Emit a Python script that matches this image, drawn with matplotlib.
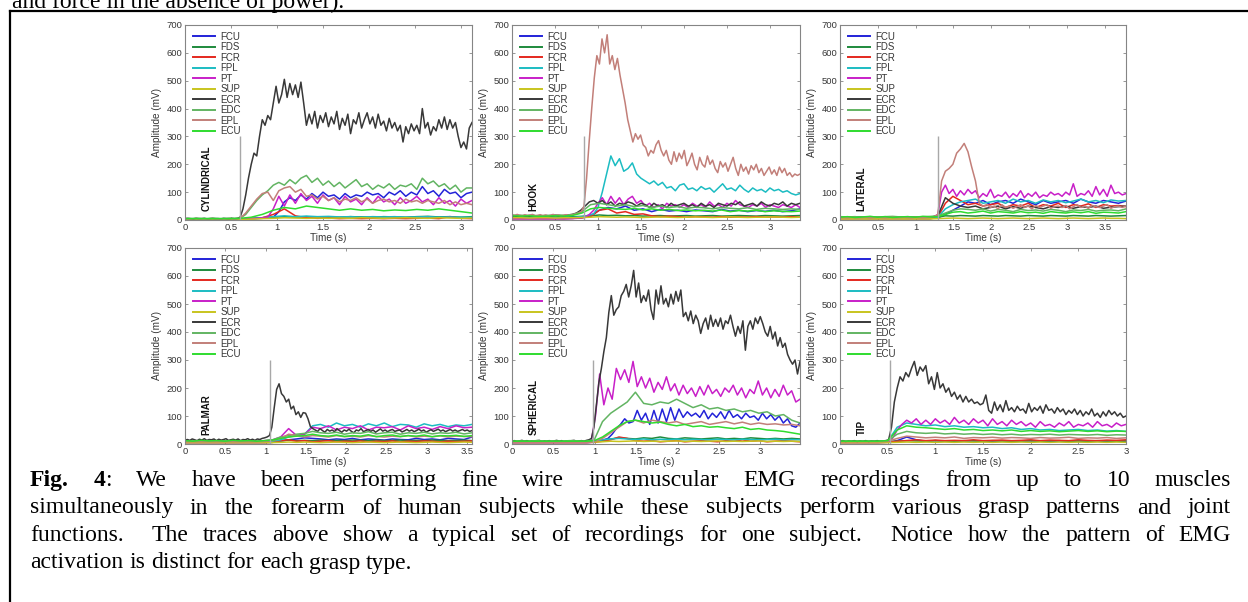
import numpy as np
import matplotlib
matplotlib.use('Agg')
import matplotlib.pyplot as plt
from matplotlib.lines import Line2D
from matplotlib.ticker import FuncFormatter

plt.rcParams['font.family'] = ['Liberation Sans', 'DejaVu Sans']

muscles = ['FCU', 'FDS', 'FCR', 'FPL', 'PT', 'SUP', 'ECR', 'EDC', 'EPL', 'ECU']
colors = ['#2323d8', '#1e8a3c', '#e4281e', '#1cbcc2', '#c81fc8',
          '#c8c41e', '#383838', '#62b462', '#c27f79', '#2fdc2f']

grasps = ['CYLINDRICAL', 'HOOK', 'LATERAL', 'PALMAR', 'SPHERICAL', 'TIP']
t_end = [3.12, 3.35, 3.78, 3.56, 3.48, 3.0]
onsets = [0.6, 0.84, 1.3, 1.06, 0.98, 0.52]
onset_top = 300

# ---- cylindrical (mV), each series spans 0..t_end evenly
cyl_ecr = [5, 6, 5, 4, 6, 5, 5, 6, 4, 5, 6, 5, 5, 4, 6, 5, 5, 6, 5, 6,
           10, 40, 90, 150, 200, 240, 230, 300, 360, 340, 375, 360, 420, 480, 420,
           450, 505, 440, 490, 450, 485, 440, 495, 420, 340, 380, 345, 390, 330, 375,
           350, 385, 335, 370, 345, 390, 325, 365, 340, 380, 310, 360, 345, 385, 330,
           360, 385, 345, 370, 330, 380, 340, 355, 320, 365, 330, 350, 320, 340, 280,
           335, 310, 345, 320, 340, 310, 400, 330, 350, 305, 335, 320, 360, 330, 370,
           325, 360, 330, 350, 300, 260, 280, 255, 330, 350]
cyl_edc = [5, 5, 6, 5, 5, 6, 5, 5, 6, 5, 6, 20, 45, 70, 90, 105, 125, 135, 125, 145,
           130, 150, 160, 135, 150, 125, 140, 120, 135, 115, 130, 145, 120, 130, 110,
           125, 115, 130, 110, 125, 120, 130, 110, 150, 130, 140, 120, 130, 110, 125,
           100, 115, 115]
cyl_fcu = [3, 3, 3, 3, 3, 3, 3, 3, 3, 3, 4, 4, 5, 5, 6, 8, 10, 30, 65, 80, 70, 90,
           75, 95, 80, 100, 85, 90, 75, 95, 80, 90, 85, 100, 90, 95, 80, 100, 90, 105,
           85, 100, 90, 120, 95, 105, 85, 110, 95, 100, 80, 95, 100]
cyl_pt = [3, 3, 3, 3, 3, 3, 3, 3, 3, 3, 3, 4, 5, 6, 8, 10, 40, 85, 50, 90, 60, 95,
          70, 85, 60, 90, 70, 80, 55, 85, 65, 75, 55, 80, 60, 85, 65, 75, 55, 80, 60,
          70, 85, 65, 75, 55, 80, 60, 70, 50, 75, 60, 70]
cyl_epl = [4, 4, 5, 4, 4, 5, 4, 4, 5, 4, 6, 25, 50, 75, 95, 100, 70, 105, 115, 120,
           100, 110, 85, 90, 75, 85, 70, 80, 65, 75, 70, 80, 65, 75, 60, 70, 75, 65,
           70, 60, 75, 65, 70, 60, 70, 65, 60, 70, 55, 65, 55, 60, 55]
cyl_ecu = [5, 5, 5, 5, 5, 6, 10, 20, 35, 45, 40, 50, 45, 40, 35, 40, 35, 38, 33,
           36, 34, 38, 35, 40, 35, 30, 25]
cyl_fpl = [3, 3, 3, 3, 3, 4, 6, 8, 12, 15, 12, 14, 12, 13, 11, 12, 10, 12, 11, 12,
           10, 11, 12, 10, 11, 10, 10]
cyl_fcr = [2, 2, 2, 2, 2, 3, 5, 8, 20, 40, 15, 8, 6, 7, 5, 6, 5, 6, 5, 6, 5, 6, 7,
           5, 12, 6, 5]
cyl_fds = [3, 3, 3, 3, 3, 3, 5, 8, 10, 12, 10, 12, 10, 11, 10, 12, 11, 10, 12, 11,
           10, 12, 13, 11, 12, 10, 12]
cyl_sup = [2, 2, 2, 2, 2, 2, 3, 5, 6, 8, 7, 6, 7, 6, 7, 6, 8, 7, 6, 7, 8, 7, 6, 8,
           7, 6, 7]

# ---- hook
hook_epl = [18, 16, 20, 17, 15, 19, 16, 18, 20, 15, 17, 19, 16, 18, 15, 17, 20, 16,
            18, 15, 17, 19, 16, 18, 20, 22, 25, 30, 50, 150, 280, 400, 510, 590, 560,
            650, 600, 665, 560, 590, 540, 580, 520, 470, 420, 360, 320, 280, 310, 290,
            305, 270, 260, 230, 250, 240, 270, 285, 250, 230, 250, 215, 200, 245, 210,
            240, 220, 250, 195, 215, 240, 200, 180, 225, 200, 190, 230, 200, 215, 185,
            170, 210, 190, 205, 175, 200, 225, 185, 160, 200, 175, 190, 165, 195, 180,
            200, 170, 185, 160, 175, 190, 165, 180, 160, 190, 170, 185, 160, 170, 155,
            165, 160, 165]
hook_fpl = [10, 9, 11, 10, 8, 10, 9, 11, 10, 9, 10, 8, 11, 10, 9, 10, 12, 14, 18, 22,
            45, 100, 165, 230, 195, 220, 175, 185, 205, 165, 150, 140, 130, 140, 125,
            135, 115, 120, 105, 125, 130, 110, 115, 105, 120, 110, 115, 100, 115, 130,
            110, 115, 105, 125, 110, 100, 115, 105, 110, 100, 115, 105, 110, 100, 105,
            95, 90, 95]
hook_pt = [5, 5, 5, 5, 5, 5, 5, 5, 5, 5, 5, 5, 5, 5, 5, 6, 8, 10, 20, 35,
           60, 80, 55, 85, 60, 80, 55, 75, 85, 60, 70, 50, 60, 45, 55, 40, 60, 50, 55,
           45, 55, 45, 60, 50, 55, 45, 65, 50, 55, 45, 60, 50, 70, 55, 50, 45, 55, 50,
           60, 45, 55, 50, 45, 55, 50, 45, 55, 45]
hook_ecr = [15, 14, 16, 15, 14, 16, 15, 14, 16, 15, 17, 16, 15, 18, 20, 25, 35, 50,
            65, 70, 60, 70, 55, 65, 50, 60, 55, 65, 60, 50, 60, 55, 45, 60, 50, 55, 45,
            60, 50, 55, 60, 50, 55, 45, 60, 50, 55, 45, 60, 55, 50, 60, 55, 65, 50, 55,
            60, 50, 65, 55, 50, 60, 55, 65, 50, 60, 55, 60]
hook_edc = [18, 16, 17, 15, 16, 18, 17, 20, 30, 55, 60, 55, 50, 55, 48, 52, 45, 50,
            45, 48, 42, 46, 44, 40, 45, 42, 40, 44, 38, 42, 40, 38, 40, 38]
hook_ecu = [15, 14, 15, 13, 14, 15, 14, 17, 25, 40, 45, 42, 40, 38, 42, 36, 40, 35,
            38, 34, 36, 33, 35, 32, 36, 30, 34, 32, 35, 30, 33, 31, 30, 32]
hook_fcu = [5, 5, 5, 5, 5, 5, 5, 6, 8, 15, 35, 45, 40, 50, 35, 40, 30, 38, 32, 35,
            30, 36, 33, 30, 38, 32, 35, 30, 34, 31, 35, 30, 33, 40]
hook_fcr = [5, 5, 5, 5, 5, 5, 5, 6, 8, 12, 35, 40, 25, 30, 20, 22, 15, 12, 14, 12,
            10, 12, 11, 10, 12, 10, 11, 10, 12, 10, 11, 10, 12, 10]
hook_fds = [12, 11, 12, 10, 11, 12, 11, 12, 13, 15, 18, 16, 17, 15, 16, 14, 15, 16,
            14, 15, 16, 14, 15, 16, 14, 15, 16, 15, 14, 16, 15, 14, 15, 16]
hook_sup = [8, 8, 7, 8, 8, 7, 8, 8, 9, 10, 12, 11, 10, 11, 10, 9, 10, 11, 10, 9, 10,
            11, 10, 9, 10, 11, 10, 9, 10, 10, 11, 10, 9, 10]

# ---- lateral
lat_epl = [8, 9, 8, 10, 9, 8, 9, 10, 8, 9, 10, 9, 8, 9, 10, 8, 9, 10, 9, 8, 10, 9,
           8, 9, 10, 12, 20, 140, 175, 185, 200, 240, 255, 275, 245, 190, 140, 60, 50,
           55, 45, 50, 40, 55, 45, 50, 42, 48, 55, 45, 50, 40, 52, 45, 50, 55, 42, 48,
           50, 45, 52, 40, 48, 55, 45, 50, 42, 52, 48, 45, 50, 55, 42, 48, 50, 45, 50]
lat_pt = [10, 9, 10, 9, 10, 11, 9, 10, 9, 10, 11, 9, 10, 9, 10, 11, 9, 10, 9, 10,
          11, 10, 9, 10, 11, 12, 20, 100, 125, 95, 110, 85, 105, 90, 110, 95, 105, 80,
          95, 85, 110, 80, 90, 85, 100, 80, 95, 85, 105, 80, 95, 85, 100, 80, 90, 85,
          100, 90, 95, 85, 100, 90, 130, 85, 95, 90, 105, 85, 120, 90, 110, 85, 125,
          95, 100, 90, 95]
lat_fpl = [8, 8, 8, 8, 8, 8, 8, 8, 8, 8, 8, 8, 8, 10, 40, 55, 65, 70, 75, 60, 65, 70,
           60, 75, 65, 70, 60, 72, 65, 70, 62, 68, 75, 65, 70, 62, 72, 68, 70]
lat_fcu = [5, 5, 5, 5, 5, 5, 5, 5, 5, 5, 5, 5, 5, 8, 20, 35, 50, 65, 60, 70, 55, 65,
           70, 60, 75, 65, 55, 70, 60, 65, 70, 60, 75, 65, 60, 70, 65, 60, 68]
lat_fcr = [5, 5, 5, 5, 5, 5, 5, 5, 5, 5, 5, 5, 5, 10, 60, 85, 70, 55, 60, 50, 55, 60,
           45, 55, 50, 60, 45, 55, 50, 60, 45, 55, 50, 58, 45, 55, 50, 52, 48]
lat_ecr = [10, 10, 10, 10, 10, 10, 10, 10, 10, 10, 10, 10, 10, 15, 80, 60, 50, 45, 50,
           40, 45, 50, 40, 48, 42, 50, 45, 40, 48, 45, 50, 42, 48, 45, 50, 42, 46, 48, 50]
lat_edc = [12, 11, 12, 10, 12, 11, 12, 13, 11, 12, 10, 12, 13, 15, 25, 35, 40, 38, 35,
           40, 32, 38, 35, 30, 38, 34, 36, 32, 38, 35, 30, 36, 34, 38, 32, 35, 36, 33, 40]
lat_ecu = [10, 12, 9, 11, 13, 10, 12, 9, 11, 12, 10, 13, 11, 12, 20, 28, 30, 25, 28,
           32, 25, 30, 28, 25, 30, 26, 28, 24, 30, 27, 25, 29, 26, 30, 24, 28, 27, 25, 30]
lat_fds = [8, 8, 8, 8, 8, 8, 8, 8, 8, 8, 8, 8, 8, 10, 15, 14, 16, 15, 14, 16, 15, 14,
           16, 15, 14, 16, 15, 14, 16, 15, 14, 16, 15, 14, 16, 15, 14, 15, 16]
lat_sup = [4, 4, 4, 4, 4, 4, 4, 4, 4, 4, 4, 4, 4, 5, 6, 7, 6, 5, 6, 7, 6, 5, 6, 7, 6,
           5, 6, 7, 6, 5, 6, 7, 6, 5, 6, 7, 6, 6, 5]

# ---- palmar
palm_ecr = [14, 16, 13, 18, 15, 12, 17, 14, 19, 13, 16, 15, 18, 12, 17, 14, 16, 19,
            13, 15, 17, 14, 18, 12, 16, 15, 19, 14, 17, 13, 18, 16, 20, 22, 25, 30, 60,
            130, 195, 215, 180, 170, 150, 160, 125, 135, 105, 115, 95, 112, 110, 90, 62,
            55, 50, 45, 55, 48, 42, 52, 46, 50, 44, 55, 48, 42, 50, 46, 53, 45, 40, 50,
            47, 55, 44, 48, 52, 45, 50, 42, 48, 54, 46, 50, 44, 49, 52, 45, 48, 50, 43,
            47, 52, 46, 50, 44, 48, 53, 46, 50, 42, 47, 51, 45, 49, 53, 46, 50, 44, 48,
            52, 46, 50, 45, 48, 52, 47, 50, 45, 48]
palm_fpl = [8, 8, 8, 8, 8, 8, 8, 8, 8, 8, 8, 10, 15, 25, 30, 35, 65, 70, 60, 75, 65,
            70, 60, 72, 65, 75, 62, 70, 68, 60, 72, 65, 70, 62, 68, 65, 70]
palm_pt = [10, 9, 10, 11, 9, 10, 9, 10, 11, 10, 12, 15, 25, 55, 30, 35, 60, 55, 65,
           50, 60, 55, 65, 50, 60, 58, 62, 50, 65, 55, 60, 52, 62, 55, 65, 58, 60]
palm_edc = [10, 11, 10, 12, 10, 11, 10, 12, 11, 10, 12, 15, 25, 30, 35, 38, 45, 40,
            38, 42, 35, 40, 38, 44, 36, 40, 42, 35, 40, 38, 42, 36, 40, 38, 42, 36, 40]
palm_ecu = [12, 10, 13, 11, 12, 10, 13, 11, 12, 10, 12, 14, 20, 25, 28, 30, 35, 30,
            28, 32, 27, 30, 28, 33, 26, 30, 32, 27, 30, 28, 32, 26, 30, 29, 31, 27, 30]
palm_epl = [8, 8, 8, 8, 8, 8, 8, 8, 8, 8, 9, 12, 20, 35, 30, 25, 30, 28, 25, 30, 26,
            28, 25, 30, 27, 25, 28, 26, 30, 25, 28, 26, 29, 25, 28, 27, 26]
palm_fcu = [5, 5, 5, 5, 5, 5, 5, 5, 5, 5, 5, 6, 10, 15, 18, 22, 20, 18, 15, 18, 16,
            20, 15, 18, 16, 14, 18, 16, 15, 20, 16, 18, 15, 20, 18, 16, 25]
palm_fcr = [5, 5, 5, 5, 5, 5, 5, 5, 5, 5, 5, 6, 12, 15, 10, 12, 8, 10, 12, 8, 10, 9,
            11, 8, 10, 9, 11, 8, 10, 9, 11, 10, 8, 10, 9, 10, 11]
palm_fds = [8, 8, 8, 8, 8, 8, 8, 8, 8, 8, 8, 9, 12, 14, 12, 13, 12, 14, 12, 13, 12,
            14, 13, 12, 14, 12, 13, 14, 12, 13, 12, 14, 13, 12, 13, 14, 12]
palm_sup = [5, 5, 5, 5, 5, 5, 5, 5, 5, 5, 5, 5, 6, 7, 6, 7, 6, 5, 6, 7, 6, 5, 6, 7,
            6, 5, 6, 7, 6, 5, 6, 7, 6, 5, 6, 7, 6]

# ---- spherical
sph_ecr = [10, 12, 9, 11, 13, 10, 12, 9, 11, 10, 12, 13, 9, 11, 10, 12, 9, 11, 13, 10,
           12, 9, 11, 10, 12, 13, 10, 11, 12, 10, 13, 15, 20, 60, 140, 220, 270, 330,
           380, 470, 530, 460, 480, 490, 530, 545, 570, 525, 565, 620, 525, 575, 505,
           530, 510, 550, 480, 445, 550, 500, 565, 500, 520, 490, 535, 500, 545, 510,
           550, 455, 470, 440, 475, 430, 460, 440, 395, 430, 450, 410, 460, 420, 445,
           420, 450, 410, 440, 430, 460, 420, 385, 420, 395, 440, 335, 420, 440, 410,
           450, 430, 455, 430, 400, 385, 420, 375, 400, 350, 380, 345, 360, 320, 300,
           285, 300, 250, 295]
sph_pt = [8, 9, 8, 10, 9, 8, 9, 10, 8, 9, 10, 9, 8, 9, 10, 8, 9, 10, 9, 12, 100, 250,
          140, 200, 160, 270, 230, 265, 220, 295, 205, 240, 200, 235, 185, 220, 195,
          240, 190, 215, 175, 210, 180, 200, 170, 205, 175, 210, 180, 195, 170, 200,
          185, 210, 175, 200, 165, 195, 180, 225, 175, 200, 165, 195, 170, 210, 175,
          190, 150, 160]
sph_edc = [10, 11, 10, 12, 10, 11, 10, 12, 11, 10, 15, 80, 110, 130, 150, 185, 145,
           140, 150, 145, 160, 145, 130, 140, 125, 130, 120, 125, 115, 120, 110, 115,
           100, 105, 85, 75]
sph_fcu = [5, 5, 5, 5, 5, 5, 5, 5, 5, 5, 5, 5, 5, 5, 5, 5, 5, 5, 5, 6, 8, 12, 15, 20,
           35, 55, 70, 90, 75, 80, 120, 85, 110, 70, 120, 75, 125, 80, 130, 85, 125, 95,
           115, 100, 110, 95, 120, 90, 110, 95, 115, 90, 120, 95, 105, 90, 110, 95, 100,
           85, 110, 90, 105, 85, 100, 75, 90, 65, 60, 75]
sph_epl = [5, 5, 5, 5, 5, 5, 5, 5, 5, 5, 8, 20, 40, 60, 80, 85, 75, 85, 80, 75, 80,
           70, 75, 80, 70, 75, 80, 72, 78, 70, 75, 70, 72, 68, 70, 65]
sph_ecu = [10, 10, 10, 10, 10, 10, 10, 10, 10, 10, 12, 25, 45, 65, 80, 85, 80, 75, 78,
           70, 65, 70, 62, 65, 60, 62, 58, 55, 60, 52, 55, 50, 48, 45, 40, 35]
sph_fpl = [8, 8, 8, 8, 8, 8, 8, 8, 8, 8, 10, 15, 18, 20, 18, 16, 18, 15, 17, 16, 18,
           15, 17, 16, 15, 17, 16, 15, 17, 16, 15, 16, 17, 15, 16, 15]
sph_fcr = [5, 5, 5, 5, 5, 5, 5, 5, 5, 5, 6, 10, 15, 25, 20, 12, 10, 12, 8, 10, 12, 8,
           10, 12, 10, 8, 12, 10, 15, 10, 12, 8, 10, 12, 10, 8]
sph_fds = [8, 8, 8, 8, 8, 8, 8, 8, 8, 8, 9, 12, 18, 22, 20, 18, 22, 20, 25, 20, 18,
           22, 20, 18, 20, 22, 18, 20, 18, 22, 20, 18, 20, 18, 20, 18]
sph_sup = [6, 6, 6, 6, 6, 6, 6, 6, 6, 6, 7, 8, 10, 9, 10, 11, 9, 10, 9, 10, 11, 9, 10,
           9, 10, 11, 9, 10, 9, 10, 11, 9, 10, 9, 10, 9]

# ---- tip
tip_ecr = [10, 12, 9, 11, 10, 12, 9, 11, 10, 12, 9, 11, 10, 12, 10, 11, 12, 15, 60,
           150, 200, 240, 225, 255, 240, 270, 295, 245, 275, 260, 280, 215, 240, 195,
           255, 200, 215, 185, 200, 170, 185, 160, 175, 150, 170, 150, 160, 145, 150,
           140, 145, 175, 120, 110, 150, 120, 140, 115, 155, 120, 130, 115, 135, 120,
           125, 110, 145, 115, 130, 120, 135, 110, 140, 120, 125, 110, 130, 115, 125,
           105, 120, 110, 125, 105, 120, 100, 115, 105, 125, 100, 110, 95, 115, 100,
           120, 105, 115, 100, 110, 95, 100]
tip_pt = [8, 9, 8, 10, 9, 8, 9, 10, 8, 9, 10, 20, 50, 70, 85, 75, 90, 70, 85, 70, 90,
          75, 85, 70, 95, 75, 85, 70, 90, 75, 85, 65, 90, 70, 80, 65, 85, 70, 80, 65,
          75, 60, 80, 65, 70, 60, 75, 65, 80, 60, 70, 65, 75, 60, 80, 65, 70, 60, 75,
          65, 70]
tip_fpl = [8, 8, 8, 8, 8, 9, 60, 75, 70, 65, 68, 62, 65, 60, 62, 58, 60, 55, 58, 52,
           55, 50, 52, 48, 50, 52, 48, 50, 46, 48, 45]
tip_ecu = [10, 10, 10, 10, 10, 12, 50, 65, 60, 58, 55, 52, 55, 50, 52, 48, 50, 47,
           50, 45, 48, 45, 47, 44, 46, 48, 45, 47, 44, 46, 45]
tip_edc = [10, 10, 10, 10, 10, 11, 35, 45, 40, 38, 40, 36, 38, 35, 37, 34, 36, 33,
           35, 32, 34, 33, 35, 32, 34, 33, 32, 34, 31, 33, 32]
tip_fcu = [5, 5, 5, 5, 5, 6, 12, 25, 15, 10, 12, 10, 11, 10, 12, 9, 10, 11, 9, 10,
           11, 10, 9, 11, 10, 9, 10, 11, 9, 10, 10]
tip_fcr = [5, 5, 5, 5, 5, 6, 10, 12, 15, 12, 14, 12, 13, 12, 15, 12, 13, 14, 12, 13,
           15, 12, 14, 13, 12, 15, 13, 12, 14, 13, 15]
tip_epl = [8, 8, 8, 8, 8, 9, 20, 28, 25, 22, 24, 22, 25, 20, 23, 22, 24, 21, 23, 22,
           20, 23, 21, 22, 24, 20, 22, 21, 23, 20, 22]
tip_fds = [8, 8, 8, 8, 8, 8, 10, 12, 11, 10, 12, 11, 10, 12, 11, 10, 12, 11, 10, 11,
           12, 10, 11, 12, 10, 11, 10, 12, 11, 10, 11]
tip_sup = [5, 5, 5, 5, 5, 5, 6, 7, 6, 7, 6, 7, 6, 7, 6, 7, 6, 7, 6, 7, 6, 7, 6, 7,
           6, 7, 6, 7, 6, 7, 6]

top_text = 'and force in the absence of power).'
caption_lines = [
    'Fig. 4: We have been performing fine wire intramuscular EMG recordings from up to 10 muscles',
    'simultaneously in the forearm of human subjects while these subjects perform various grasp patterns and joint',
    'functions.  The traces above show a typical set of recordings for one subject.  Notice how the pattern of EMG',
    'activation is distinct for each grasp type.',
]

panels = [
    [cyl_fcu, cyl_fds, cyl_fcr, cyl_fpl, cyl_pt, cyl_sup, cyl_ecr, cyl_edc, cyl_epl, cyl_ecu],
    [hook_fcu, hook_fds, hook_fcr, hook_fpl, hook_pt, hook_sup, hook_ecr, hook_edc, hook_epl, hook_ecu],
    [lat_fcu, lat_fds, lat_fcr, lat_fpl, lat_pt, lat_sup, lat_ecr, lat_edc, lat_epl, lat_ecu],
    [palm_fcu, palm_fds, palm_fcr, palm_fpl, palm_pt, palm_sup, palm_ecr, palm_edc, palm_epl, palm_ecu],
    [sph_fcu, sph_fds, sph_fcr, sph_fpl, sph_pt, sph_sup, sph_ecr, sph_edc, sph_epl, sph_ecu],
    [tip_fcu, tip_fds, tip_fcr, tip_fpl, tip_pt, tip_sup, tip_ecr, tip_edc, tip_epl, tip_ecu],
]

W, H = 1248, 602
fig = plt.figure(figsize=(W / 100, H / 100), dpi=100)

col_left = [185, 512, 840]
col_width = [287, 288, 286]
row_top = [25, 248]
row_height = [195, 196]

spine_c = '#858585'
text_c = '#363636'

for k in range(6):
    r, c = divmod(k, 3)
    ax = fig.add_axes([col_left[c] / W, 1 - (row_top[r] + row_height[r]) / H,
                       col_width[c] / W, row_height[r] / H])
    for vals, name, col in zip(panels[k], muscles, colors):
        t = np.linspace(0, t_end[k], len(vals))
        ax.plot(t, vals, color=col, lw=1.1, label=name)
    ax.vlines(onsets[k], 0, onset_top, color='#a8a8a8', lw=1.0)
    ax.set_xlim(0, t_end[k])
    ax.set_ylim(0, 700)
    ax.set_yticks(np.arange(0, 701, 100))
    ax.set_xticks(np.arange(0, t_end[k] + 1e-6, 0.5))
    ax.xaxis.set_major_formatter(FuncFormatter(lambda v, p: f'{v:g}'))
    ax.tick_params(direction='in', length=2.5, width=0.6, top=True, right=True,
                   labelsize=6.8, colors=spine_c, labelcolor=text_c, pad=2)
    for s in ax.spines.values():
        s.set_color(spine_c)
        s.set_linewidth(0.8)
    ax.set_xlabel('Time (s)', fontsize=7.2, color=text_c, labelpad=1)
    ax.set_ylabel('Amplitude (mV)', fontsize=7.2, color=text_c, labelpad=3)
    ax.text(0.075, 0.045, grasps[k], transform=ax.transAxes, rotation=90,
            ha='center', va='bottom', fontsize=7, fontweight='bold', color='#111111')
    leg = ax.legend(loc='upper left', bbox_to_anchor=(0.012, 0.99), frameon=False,
                    fontsize=7, handlelength=2.2, handletextpad=0.6,
                    labelspacing=0.05, borderaxespad=0.3, borderpad=0.2)
    for txt in leg.get_texts():
        txt.set_color(text_c)
    for ln in leg.get_lines():
        ln.set_linewidth(1.4)

# page frame around the figure
fx = 10 / W
fy = 1 - 11 / H
fig.add_artist(Line2D([fx, 1.0], [fy, fy], transform=fig.transFigure, color='k', lw=1.6))
fig.add_artist(Line2D([fx, fx], [fy, 0.0], transform=fig.transFigure, color='k', lw=1.6))

serif = ['Liberation Serif', 'DejaVu Serif']
cap_size = 17
fig.text(12 / W, 1 - 8 / H, top_text, family=serif, fontsize=cap_size, va='baseline')

# justified caption
renderer = fig.canvas.get_renderer()
baselines = [486, 513.5, 541, 568.5]
x_left, x_right = 30, 1231
space_px = cap_size * 100 / 72 * 0.25


def word_parts(word, first_line):
    if first_line and word == 'Fig.':
        return [(word, 'bold')]
    if first_line and word == '4:':
        return [('4', 'bold'), (':', 'normal')]
    return [(word, 'normal')]


for li, line in enumerate(caption_lines):
    y = 1 - baselines[li] / H
    words = line.split(' ')
    items = []
    for w in words:
        parts = []
        for s, wt in word_parts(w, li == 0):
            t = fig.text(0, y, s, family=serif, fontsize=cap_size, fontweight=wt,
                         va='baseline', ha='left')
            wpx = t.get_window_extent(renderer).width if s else 0
            parts.append((t, wpx))
        items.append(parts)
    widths = [sum(p[1] for p in parts) for parts in items]
    last = li == len(caption_lines) - 1
    gap = space_px if last else (x_right - x_left - sum(widths)) / (len(items) - 1)
    x = x_left
    for parts, wsum in zip(items, widths):
        xx = x
        for t, wpx in parts:
            t.set_x(xx / W)
            xx += wpx
        x += wsum + gap

fig.savefig('out.png', dpi=100)
